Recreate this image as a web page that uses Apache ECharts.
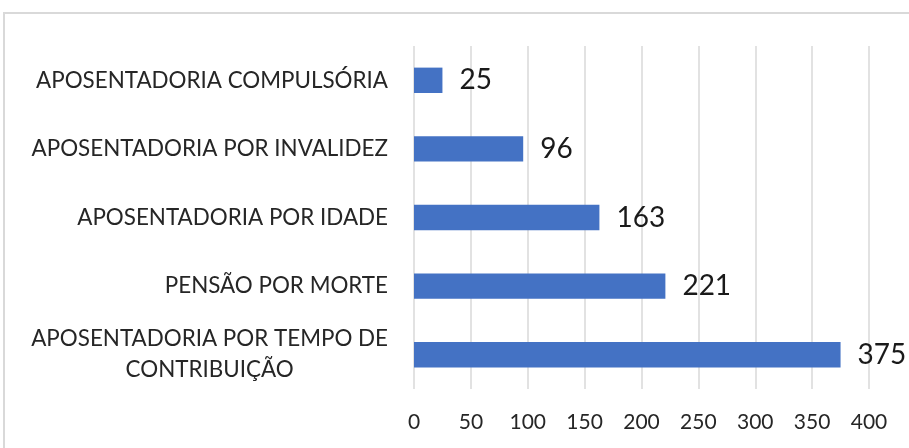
<!DOCTYPE html>
<html>
<head>
<meta charset="utf-8">
<script src="https://cdn.jsdelivr.net/npm/echarts@6/dist/echarts.min.js"></script>
<style>
  html, body { margin: 0; padding: 0; background: #fff; }
  #chart { width: 909px; height: 448px; }
</style>
</head>
<body>
<div id="chart"></div>
<script>
// categories bottom to top, as the y axis draws them
const categories = [
  'APOSENTADORIA POR TEMPO DE\nCONTRIBUIÇÃO',
  'PENSÃO POR MORTE',
  'APOSENTADORIA POR IDADE',
  'APOSENTADORIA POR INVALIDEZ',
  'APOSENTADORIA COMPULSÓRIA'
];
const values = [375, 221, 163, 96, 25];
const xTicks = [0, 400, 50]; // min, max, interval

const chart = echarts.init(document.getElementById('chart'));
chart.setOption({
  animation: false,
  textStyle: { fontFamily: 'Lato' },
  graphic: [{
    type: 'rect',
    shape: { x: 4, y: 13, width: 1000, height: 1000 },
    style: { fill: 'none', stroke: '#d9d9d9', lineWidth: 2 },
    silent: true
  }],
  grid: { left: 414, right: 40, top: 46, bottom: 59 },
  xAxis: {
    type: 'value',
    min: xTicks[0], max: xTicks[1], interval: xTicks[2],
    axisLine: { show: false },
    axisTick: { show: false },
    splitLine: { lineStyle: { color: '#d9d9d9', width: 1.5 } },
    axisLabel: { color: '#262626', fontSize: 21, margin: 23 }
  },
  yAxis: {
    type: 'category',
    data: categories,
    axisLine: { show: false },
    axisTick: { show: false },
    axisLabel: {
      color: '#262626', fontSize: 22.4, margin: 26, align: 'right',
      formatter: function (v) {
        return v.split('\n').map(function (s) { return '{c|' + s + '}'; }).join('\n');
      },
      rich: { c: { align: 'center', fontSize: 22.4, lineHeight: 31, color: '#262626', fontFamily: 'Lato' } }
    }
  },
  series: [{
    type: 'bar',
    data: values,
    barCategoryGap: '63%',
    itemStyle: { color: '#4472c4' },
    label: { show: true, position: 'right', distance: 17, color: '#1a1a1a', fontSize: 28 }
  }]
});
</script>
</body>
</html>
